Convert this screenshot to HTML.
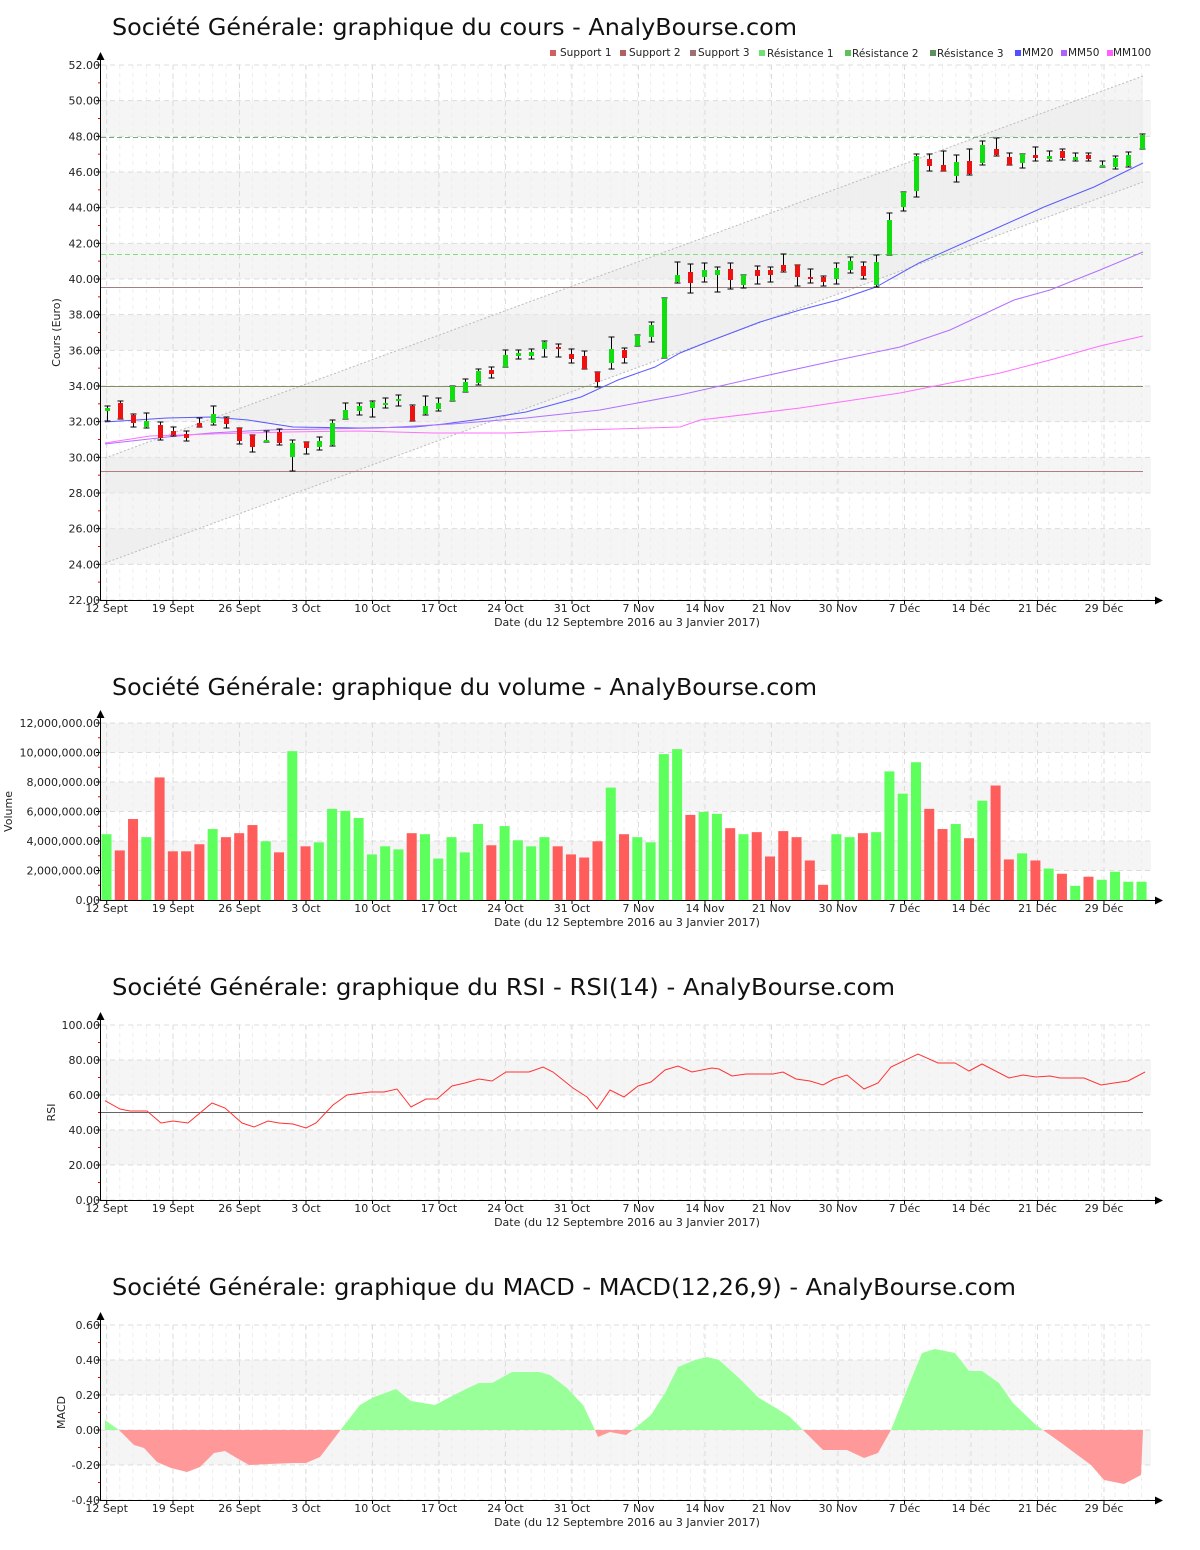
<!DOCTYPE html>
<html><head><meta charset="utf-8">
<style>
html,body{margin:0;padding:0;background:#fff;}
svg{display:block;}
text{font-family:"DejaVu Sans","Liberation Sans",sans-serif;}
</style></head>
<body>
<svg id="s" width="1200" height="1550" xmlns="http://www.w3.org/2000/svg"></svg>
<script>
var S=document.getElementById('s');var h='';
function X(i){return 106.5+13.27*i;}
var dates=[["12 Sept",106.7],["19 Sept",173],["26 Sept",239.5],["3 Oct",306],["10 Oct",372.5],["17 Oct",439],["24 Oct",505.5],["31 Oct",572],["7 Nov",638.5],["14 Nov",705],["21 Nov",771.5],["30 Nov",838],["7 Déc",904.5],["14 Déc",971],["21 Déc",1037.5],["29 Déc",1104]];
function frame(top,bot,ticks,bands,ylab,ylx,title,tby,tw){
  // bands
  bands.forEach(function(b){h+='<rect x="101" y="'+b[0]+'" width="1050" height="'+(b[1]-b[0])+'" fill="#f5f5f5"/>';});
  // vertical minor dashed
  for(var i=0;i<79;i++){var x=X(i);h+='<line x1="'+x+'" y1="'+top+'" x2="'+x+'" y2="'+bot+'" stroke="#eeeeee" stroke-dasharray="4,4"/>';}
  dates.forEach(function(d){h+='<line x1="'+d[1]+'" y1="'+top+'" x2="'+d[1]+'" y2="'+bot+'" stroke="#dcdcdc" stroke-dasharray="5,4"/>';});
  ticks.forEach(function(t){h+='<line x1="101" y1="'+t[1]+'" x2="1150" y2="'+t[1]+'" stroke="#dcdcdc" stroke-dasharray="5,4"/>';
    h+='<line x1="96" y1="'+t[1]+'" x2="101" y2="'+t[1]+'" stroke="#000"/>';
    h+='<text x="100" y="'+(t[1]+4)+'" font-size="11" text-anchor="end" fill="#222">'+t[0]+'</text>';});
  for(var k=0;k<ticks.length-1;k++){var ym=(ticks[k][1]+ticks[k+1][1])/2;h+='<line x1="98" y1="'+ym+'" x2="101" y2="'+ym+'" stroke="#e00"/>';}
  h+='<line x1="100.5" y1="'+(top-10)+'" x2="100.5" y2="'+bot+'" stroke="#000"/>';
  h+='<polygon points="96.5,'+(top-5)+' 104.5,'+(top-5)+' 100.5,'+(top-13)+'" fill="#000"/>';
  h+='<line x1="100" y1="'+(bot+0.5)+'" x2="1158" y2="'+(bot+0.5)+'" stroke="#000"/>';
  h+='<polygon points="1155,'+(bot-3.5)+' 1155,'+(bot+4.5)+' 1163,'+(bot+0.5)+'" fill="#000"/>';
  dates.forEach(function(d){h+='<line x1="'+d[1]+'" y1="'+bot+'" x2="'+d[1]+'" y2="'+(bot+4)+'" stroke="#000"/>';
    h+='<text x="'+d[1]+'" y="'+(bot+12)+'" font-size="11" text-anchor="middle" fill="#222">'+d[0]+'</text>';});
  h+='<text x="627" y="'+(bot+26)+'" font-size="11" text-anchor="middle" fill="#222">Date (du 12 Septembre 2016 au 3 Janvier 2017)</text>';
  var ym2=(top+bot)/2;
  h+='<text x="'+ylx+'" y="'+ym2+'" font-size="11" text-anchor="middle" fill="#222" transform="rotate(-90 '+ylx+' '+ym2+')">'+ylab+'</text>';
  h+='<text x="112" y="'+tby+'" font-size="23" fill="#111" textLength="'+tw+'" lengthAdjust="spacingAndGlyphs">'+title+'</text>';
}
function py(v){return 65+(52-v)*17.833;}
// ===== Chart 1 =====
var t1=[],b1=[];for(var v=52;v>=22;v-=2){t1.push([v.toFixed(2),py(v)]);}
[48,44,40,36,32,28,24].forEach(function(v){b1.push([py(v+2),py(v)]);});
frame(65,600,t1,b1,"Cours (Euro)",60,"Société Générale: graphique du cours - AnalyBourse.com",35,685);
// regression channel
h+='<polygon points="105,458 1143,76 1143,182 105,563" fill="#e8e8e8" fill-opacity="0.45"/>';
h+='<line x1="105" y1="458" x2="1143" y2="76" stroke="#bbb" stroke-dasharray="2,2"/>';
h+='<line x1="105" y1="563" x2="1143" y2="182" stroke="#bbb" stroke-dasharray="2,2"/>';
// S/R lines
h+='<line x1="101" y1="137.5" x2="1143" y2="137.5" stroke="#70b070" stroke-dasharray="5,3"/>';
h+='<line x1="101" y1="254.5" x2="1143" y2="254.5" stroke="#80dd80" stroke-dasharray="5,3"/>';
h+='<line x1="101" y1="287.5" x2="1143" y2="287.5" stroke="#a08080"/>';
h+='<line x1="101" y1="386.5" x2="1143" y2="386.5" stroke="#809060"/>';
h+='<line x1="101" y1="471.5" x2="1143" y2="471.5" stroke="#b08080"/>';
// MAs
function pl(p,c){h+='<polyline points="'+p+'" fill="none" stroke="'+c+'" stroke-width="1"/>';}
pl("105,422 167,418 211,417 248,420 293,427 359,428 415,427 444,424 489,418 526,412 581,397 618,380 655,367 680,353 705,343 760,322 800,310 838,300 876,287 919,263 977,237 1044,207 1094,187 1143,163","#5a5aff");
pl("105,444 167,437 211,433 267,430 378,428 452,424 526,418 600,410 680,395 760,377 838,360 900,347 950,330 1014,300 1050,290 1100,270 1143,252","#b070ff");
pl("105,443 150,436 211,434 285,432 359,431 433,433 507,433 581,430 680,427 700,420 800,408 900,393 1000,373 1050,360 1100,346 1143,336","#ff70ff");
// candles: [bodyTop,bodyBot,high,low,color]
var C=[[408,411,406,421,'g'],[403,419,401,419,'r'],[415,423,414,427,'r'],[421,427,413,428,'g'],[425,438,422,440,'r'],[431,435,427,436,'r'],[434,438,431,441,'r'],[423,427,418,427,'r'],[414,423,406,425,'g'],[418,424,417,428,'r'],[428,441,428,444,'r'],[435,447,435,452,'r'],[440,442,431,442,'g'],[432,443,429,445,'r'],[443,457,440,471,'g'],[442,448,442,454,'r'],[441,447,437,450,'g'],[423,445,420,446,'g'],[410,419,403,419,'g'],[406,411,403,415,'g'],[402,408,401,417,'g'],[403,405,398,408,'g'],[399,401,395,406,'g'],[406,421,405,421,'r'],[406,414,396,415,'g'],[403,409,398,411,'g'],[386,401,386,401,'g'],[382,392,379,392,'g'],[371,383,369,385,'g'],[370,374,367,378,'r'],[355,367,350,367,'g'],[353,356,350,359,'g'],[352,356,349,359,'g'],[342,349,341,357,'g'],[347,349,344,357,'r'],[354,359,349,363,'r'],[356,369,351,369,'r'],[372,382,372,387,'r'],[349,363,337,369,'g'],[350,358,348,363,'r'],[335,346,335,346,'g'],[325,337,322,342,'g'],[298,358,298,358,'g'],
[275,282,262,283,'g'],[272,283,264,293,'r'],[270,277,263,282,'g'],[270,275,267,292,'g'],[269,280,263,289,'r'],[275,285,275,288,'g'],[270,276,266,284,'r'],[270,275,267,282,'r'],[265,271,254,272,'r'],[265,277,265,286,'r'],[277,279,269,283,'r'],[277,282,276,286,'r'],[268,279,263,284,'g'],[261,270,257,273,'g'],[266,276,262,279,'r'],[262,285,255,287,'g'],[220,255,213,255,'g'],[192,207,192,211,'g'],[156,191,154,197,'g'],[159,166,154,171,'r'],[165,171,151,171,'r'],[162,176,155,182,'g'],[161,174,149,175,'r'],[145,163,141,165,'g'],[149,155,138,156,'r'],[157,165,153,165,'r'],[154,163,154,168,'g'],[155,158,147,161,'r'],[156,159,151,161,'g'],[151,158,149,160,'r'],[157,160,153,161,'g'],[155,159,153,161,'r'],[165,167,161,167,'g'],[158,167,156,169,'g'],[155,166,152,167,'g'],[135,149,134,149,'g']];
C.forEach(function(c,i){var x=Math.round(X(i))+0.5;
  h+='<line x1="'+x+'" y1="'+c[2]+'" x2="'+x+'" y2="'+c[3]+'" stroke="#000"/>';
  h+='<line x1="'+(x-3)+'" y1="'+c[2]+'" x2="'+(x+3)+'" y2="'+c[2]+'" stroke="#000"/>';
  h+='<line x1="'+(x-3)+'" y1="'+c[3]+'" x2="'+(x+3)+'" y2="'+c[3]+'" stroke="#000"/>';
  var bh=Math.max(c[1]-c[0],2);
  h+='<rect x="'+(x-2.5)+'" y="'+c[0]+'" width="5" height="'+bh+'" fill="'+(c[4]=='g'?'#11dd11':'#ee1111')+'"/>';});
// legend
var L=[["Support 1","#d06060",550,560],["Support 2","#b06060",620,629],["Support 3","#a07070",690,698],["Résistance 1","#70e070",759,767],["Résistance 2","#60c060",845,852],["Résistance 3","#609060",930,937],["MM20","#5050ff",1015,1022],["MM50","#b060ff",1061,1068],["MM100","#ff60ff",1107,1113]];
L.forEach(function(l){h+='<rect x="'+l[2]+'" y="50" width="6" height="6" fill="'+l[1]+'"/><text x="'+l[3]+'" y="'+(l[0].indexOf('R')==0?57:56)+'" font-size="10.5" fill="#222">'+l[0]+'</text>';});
// ===== Chart 2 volume =====
function vy(m){return 900-m*14.75;}
var t2=[],b2=[];for(var m=12;m>=0;m-=2){t2.push([(m==0?"0.00":(m+",000,000.00")).replace(/^(\d+),/,function(a,b){return b+",";}),vy(m)]);}
b2=[[vy(12),vy(10)],[vy(8),vy(6)],[vy(4),vy(2)]];
frame(723,900,t2,b2,"Volume",12,"Société Générale: graphique du volume - AnalyBourse.com",695,705);
var V=[[4.46,'g'],[3.36,'r'],[5.49,'r'],[4.26,'g'],[8.31,'r'],[3.30,'r'],[3.30,'r'],[3.78,'r'],[4.81,'g'],[4.26,'r'],[4.53,'r'],[5.08,'r'],[3.98,'g'],[3.23,'r'],[10.09,'g'],[3.64,'r'],[3.91,'g'],[6.18,'g'],[6.04,'g'],[5.56,'g'],[3.09,'g'],[3.64,'g'],[3.43,'g'],[4.53,'r'],[4.46,'g'],[2.81,'g'],[4.26,'g'],[3.23,'g'],[5.15,'g'],[3.71,'r'],[5.01,'g'],[4.05,'g'],[3.64,'g'],[4.26,'g'],[3.64,'r'],[3.09,'r'],[2.88,'r'],[3.98,'r'],[7.62,'g'],[4.46,'r'],[4.26,'g'],
[3.91,'g'],[9.89,'g'],[10.23,'g'],[5.77,'r'],[5.97,'g'],[5.84,'g'],[4.87,'r'],[4.46,'g'],[4.60,'r'],[2.95,'r'],[4.67,'r'],[4.26,'r'],[2.68,'r'],[1.03,'r'],[4.46,'g'],[4.26,'g'],[4.53,'r'],[4.60,'g'],[8.72,'g'],[7.21,'g'],[9.34,'g'],[6.18,'r'],[4.81,'r'],[5.15,'g'],[4.19,'r'],[6.73,'g'],[7.76,'r'],[2.75,'r'],[3.16,'g'],[2.68,'r'],[2.13,'g'],[1.78,'r'],[0.96,'g'],[1.58,'r'],[1.37,'g'],[1.92,'g'],[1.24,'g'],[1.24,'g']];
V.forEach(function(v,i){var x=X(i);h+='<rect x="'+(x-5)+'" y="'+vy(v[0])+'" width="10" height="'+(v[0]*14.75)+'" fill="'+(v[1]=='g'?'#5cff5c':'#ff5c5c')+'"/>';});
// ===== Chart 3 RSI =====
function ry(v){return 1200-v*1.75;}
var t3=[];for(var r=100;r>=0;r-=20){t3.push([r.toFixed(2),ry(r)]);}
frame(1025,1200,t3,[[ry(80),ry(60)],[ry(40),ry(20)]],"RSI",55,"Société Générale: graphique du RSI - RSI(14) - AnalyBourse.com",995,783);
h+='<line x1="101" y1="1112.5" x2="1143" y2="1112.5" stroke="#666"/>';
pl("105,1100.7 120,1109 130,1111 147,1111 161,1123 173,1121 188,1123 212,1103 225,1108 242,1123 254,1127 268,1121 279,1123 293,1124 306,1128 316,1123 333,1105 347,1095 370,1092 384,1092 397,1089 411,1107 426,1099 437,1099 452,1086 465,1083 479,1079 492,1081 506,1072 529,1072 543,1067 553,1072 573,1088 587,1097 597,1109 610,1090 624,1097 638,1086 651,1082 665,1070 678,1066 692,1072 712,1068 719,1069 732,1076 746,1074 773,1074 783,1072 796,1079 810,1081 823,1085 834,1079 847,1075 864,1089 878,1083 891,1067 918,1054 938,1063 955,1063 969,1071 982,1064 1009,1078 1023,1075 1036,1077 1050,1076 1060,1078 1084,1078 1101,1085 1114,1083 1128,1081 1145,1072","#ff3333");
// ===== Chart 4 MACD =====
function my(v){return 1430-v*175;}
var t4=[];[0.6,0.4,0.2,0,-0.2,-0.4].forEach(function(v){t4.push([v.toFixed(2),my(v)]);});
frame(1325,1500,t4,[[my(0.4),my(0.2)],[my(0),my(-0.2)]],"MACD",65,"Société Générale: graphique du MACD - MACD(12,26,9) - AnalyBourse.com",1295,904);
var mp="105,1420 119,1430 134,1445 144,1448 157,1462 171,1468 187,1472 200,1467 214,1453 225,1451 235,1457 249,1465 269,1464 293,1463 306,1463 320,1457 333,1440 342,1428 360,1405 374,1397 396,1389 411,1401 435,1405 452,1396 468,1388 479,1383 492,1383 512,1372 539,1372 550,1375 567,1388 583,1405 595,1430 598,1437 610,1432 626,1435 634,1429 651,1415 665,1393 678,1367 695,1360 707,1357 719,1360 739,1378 759,1398 776,1408 790,1417 803,1430 823,1450 847,1450 864,1458 878,1453 891,1430 908,1387 922,1353 935,1349 955,1353 969,1371 982,1371 999,1383 1013,1403 1036,1425 1043,1430 1060,1442 1091,1465 1104,1480 1124,1484 1141,1475 1143,1430";
h+='<defs><clipPath id="ca"><rect x="100" y="1300" width="1060" height="130"/></clipPath><clipPath id="cb"><rect x="100" y="1430" width="1060" height="80"/></clipPath></defs>';
h+='<polygon points="105,1430 '+mp+'" fill="#99ff99" clip-path="url(#ca)"/>';
h+='<polygon points="105,1430 '+mp+'" fill="#ff9999" clip-path="url(#cb)"/>';
S.innerHTML=h;
</script>
</body></html>
